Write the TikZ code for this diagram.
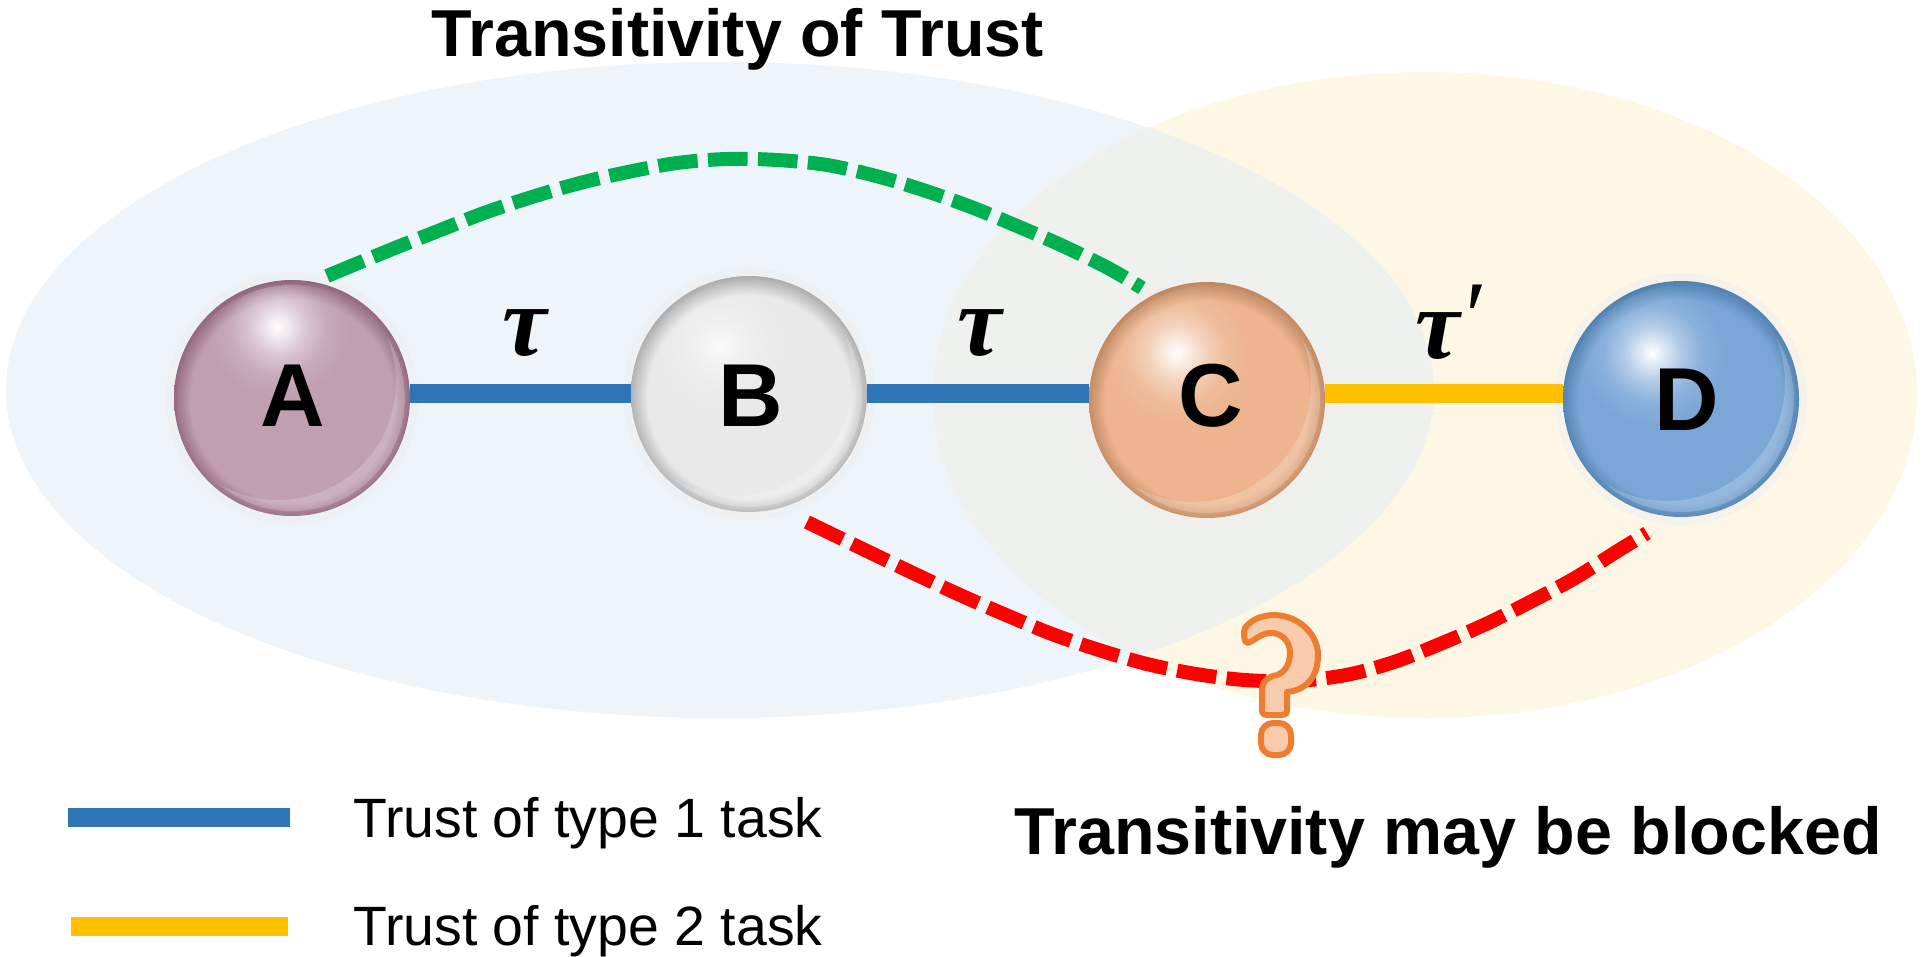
\documentclass[tikz,border=0pt]{standalone}
\usepackage{fontspec}
\setmainfont{Liberation Sans}
\newfontfamily\greekfont{Liberation Serif}
\usetikzlibrary{fadings}

\definecolor{leftzone}{HTML}{EDF5FB}
\definecolor{rightzone}{HTML}{FFF7E6}
\definecolor{bothzones}{HTML}{EFF1EE}
\definecolor{haloring}{HTML}{EFEFEF}
\definecolor{taskone}{HTML}{2E75B6}
\definecolor{tasktwo}{HTML}{FFC000}
\definecolor{linkgreen}{HTML}{00B050}
\definecolor{linkred}{HTML}{FF0000}
\definecolor{markfill}{HTML}{F8CBAD}
\definecolor{markedge}{HTML}{ED7D31}

\definecolor{baseA}{HTML}{C09FB0}\definecolor{rimA}{HTML}{8F6579}
\definecolor{baseB}{HTML}{E9E9E9}\definecolor{rimB}{HTML}{ABABAB}
\definecolor{baseC}{HTML}{EDB48E}\definecolor{rimC}{HTML}{BE875F}
\definecolor{baseD}{HTML}{7BA7D7}\definecolor{rimD}{HTML}{4F80AE}

% Glassy body of a ball: flat colour with a rim that darkens towards the top.
% A radial shading reaches the edge of the shaded circle at 25bp.
\newcommand{\ballshading}[1]{%
  \pgfdeclareradialshading{ball#1}{\pgfpoint{0bp}{-1bp}}{%
    color(0bp)=(base#1); color(21.5bp)=(base#1); color(25.5bp)=(rim#1); color(50bp)=(rim#1)}}
\ballshading{A}\ballshading{B}\ballshading{C}\ballshading{D}

% Soft specular highlight with a bright core
\pgfdeclareradialshading{glowramp}{\pgfpointorigin}{%
  color(0bp)=(pgftransparent!0); color(5bp)=(pgftransparent!30);
  color(10bp)=(pgftransparent!60); color(17bp)=(pgftransparent!88);
  color(25bp)=(pgftransparent!100); color(50bp)=(pgftransparent!100)}
\pgfdeclarefading{glowfade}{\pgfuseshading{glowramp}}

\tikzset{
  x=0.5pt, y=-0.5pt,
  zonetitle/.style={anchor=base west, inner sep=0pt, font=\fontsize{33.2}{36}\selectfont\bfseries},
  legendtext/.style={anchor=base west, inner sep=0pt, font=\fontsize{27.7}{30}\selectfont},
  balltext/.style={anchor=base, inner sep=0pt, font=\fontsize{44.7}{48}\selectfont\bfseries},
  tasklabel/.style={anchor=base west, inner sep=0pt, font=\fontsize{50}{54}\selectfont\greekfont\bfseries\itshape},
  bar/.style={line width=9.5pt},
  dashlink/.style={line width=7pt, dash pattern=on 19.8pt off 5.2pt},
  ball/.style={circle, inner sep=0pt, minimum size=118pt},
}

% \ball{name}{x}{y}{glow dx}{glow dy}{glow strength}{letter x}{letter y}
\newcommand{\ball}[8]{%
  \fill[haloring, opacity=0.6] (#2,#3) circle (63pt);
  \node[ball, shading=ball#1] (#1) at (#2,#3) {};
  \begin{scope}
    \clip (#2,#3) circle (56.5pt);
    \fill[white, opacity=0.2, even odd rule] (#2,#3) circle (56.5pt) ++(-14,-16) circle (59pt);
    \fill[white, opacity=#6, path fading=glowfade] (#2+#4,#3+#5) circle (36pt);
  \end{scope}
  \node[balltext] (letter#1) at (#7,#8) {#1};
}

\begin{document}
\begin{tikzpicture}
  \useasboundingbox (0,0) rectangle (1929,957);
  \fill[white] (0,0) rectangle (1929,957);

  % The two overlapping zones
  \fill[leftzone] (720,390) ellipse [x radius=714, y radius=328];
  \fill[rightzone] (1425,395) ellipse [x radius=492, y radius=323];
  \begin{scope}
    \clip (720,390) ellipse [x radius=714, y radius=328];
    \fill[bothzones] (1425,395) ellipse [x radius=492, y radius=323];
  \end{scope}

  \node[zonetitle] (title) at (431,57) {Transitivity of Trust};

  % Agents
  \ball{A}{292}{398}{-14}{-71}{1}{292.5}{427}
  \ball{B}{749}{394}{-29}{-49}{0.75}{750.5}{426}
  \ball{C}{1207}{400}{-30}{-47}{1}{1210.5}{427}
  \ball{D}{1681}{399}{-29}{-46}{1}{1687}{430}

  % Direct trust links
  \coordinate (rail) at (0,394);
  \draw[bar, taskone] (A.east|-rail) -- (B.west|-rail);
  \draw[bar, taskone] (B.east|-rail) -- (C.west|-rail);
  \draw[bar, tasktwo] (C.east|-rail) -- (D.west|-rail);

  \node[tasklabel] (tauone) at (502,356) {τ};
  \node[tasklabel] (tautwo) at (957,356) {τ};
  \node[tasklabel] (tauthree) at (1415,358) {τ\raisebox{4pt}{\mdseries ′}};

  % Transitive links
  \coordinate (greenstart) at (327,276);
  \coordinate (greenend) at (1142,288);
  \draw[dashlink, linkgreen] plot[smooth, tension=0.55] coordinates {
    (greenstart) (390,250) (438,231) (484,213) (532,197) (580,183) (628,172) (677,163)
    (727,159) (777,160) (827,165) (876,176) (923,190) (971,207) (1017,226) (1063,246)
    (1108,268) (greenend)};

  \coordinate (redstart) at (807,522);
  \coordinate (redend) at (1647,533);
  \draw[dashlink, linkred] plot[smooth, tension=0.55] coordinates {
    (redstart) (869,552) (915,574) (960,595) (1006,615) (1052,634) (1099,650) (1147,664)
    (1196,674) (1245,680) (1295,681) (1346,675) (1394,662) (1440,644) (1486,624)
    (1532,601) (1575,578) (1616,552) (redend)};

  % Question mark over the blocked link
  \draw[line width=3pt, line join=round, markedge, fill=markfill]
    (1245,628) .. controls (1252,618) and (1265,615) .. (1275,615)
    .. controls (1300,616) and (1318,635) .. (1318,655)
    .. controls (1318,675) and (1308,690) .. (1287,692)
    -- (1287,710) .. controls (1287,714) and (1285,715) .. (1282,715)
    -- (1267,715) .. controls (1264,715) and (1262,714) .. (1262,710)
    -- (1262,690)
    .. controls (1262,680) and (1270,676) .. (1277,675)
    .. controls (1285,672) and (1290,664) .. (1290,653)
    .. controls (1290,640) and (1280,632) .. (1269,633)
    .. controls (1260,634) and (1254,641) .. (1248,643)
    .. controls (1244,644) and (1243,633) .. (1245,628) -- cycle;
  \draw[line width=3pt, markedge, fill=markfill, rounded corners=6pt]
    (1261,723) rectangle (1291,755);

  \node[zonetitle] (blocked) at (1014,854) {Transitivity may be blocked};

  % Legend
  \coordinate (keyone) at (68,817);
  \coordinate (keyoneend) at (290,817);
  \coordinate (keytwo) at (71,926);
  \coordinate (keytwoend) at (288,926);
  \draw[bar, taskone] (keyone) -- (keyoneend);
  \draw[bar, tasktwo] (keytwo) -- (keytwoend);
  \node[legendtext] (legendone) at (353,837) {Trust of type 1 task};
  \node[legendtext] (legendtwo) at (353,945) {Trust of type 2 task};
\end{tikzpicture}
\end{document}
